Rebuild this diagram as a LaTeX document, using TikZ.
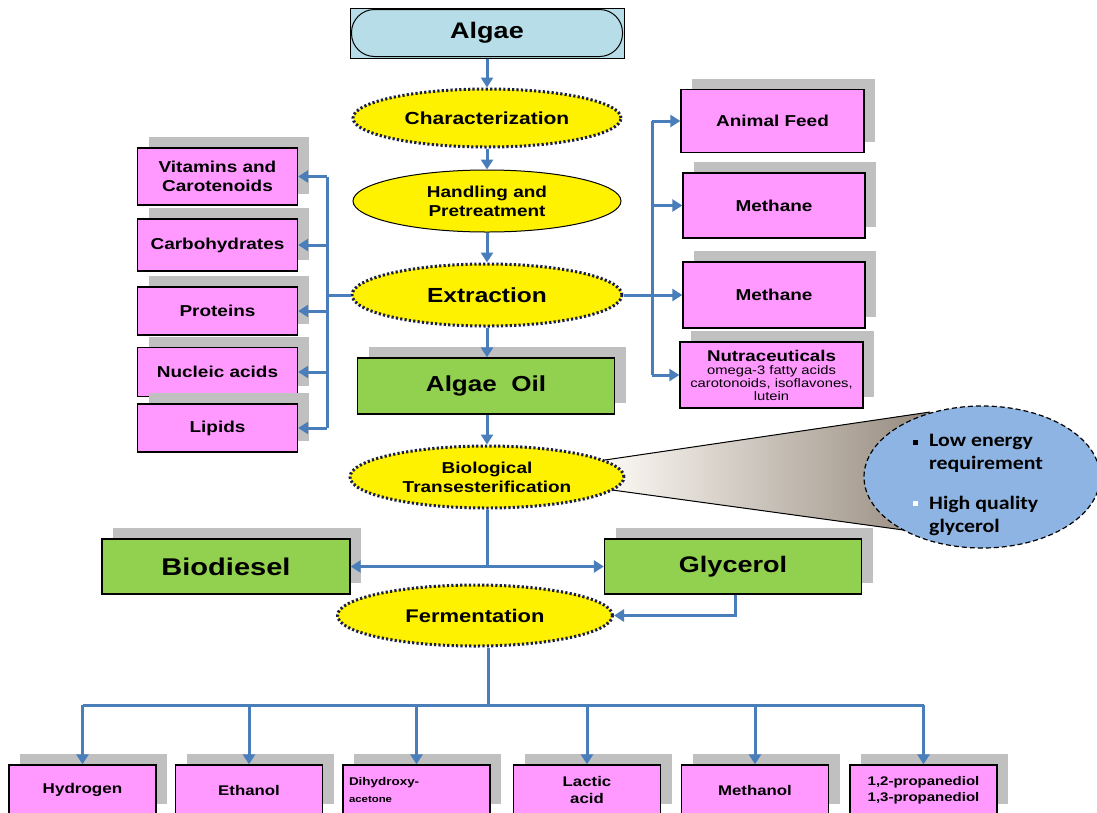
\documentclass[tikz,border=0pt]{standalone}
\usepackage{fontspec}
\setmainfont{Liberation Sans}[FakeStretch=1.2]
\newfontfamily\calibfont{Carlito}[FakeStretch=1.15]
\usetikzlibrary{shapes.geometric,arrows.meta,shadows}
\definecolor{conn}{RGB}{74,126,187}
\definecolor{pinkbox}{RGB}{255,153,255}
\definecolor{greenbox}{RGB}{146,208,80}
\definecolor{algaeblue}{RGB}{183,222,232}
\definecolor{dotline}{RGB}{25,30,70}
\definecolor{callblue}{RGB}{141,180,226}
\definecolor{shadowgray}{RGB}{192,192,192}
\definecolor{coneA}{RGB}{252,249,244}
\definecolor{coneB}{RGB}{150,138,126}
\newcommand\fsz[2]{\fontsize{#1}{#2}\selectfont}
\begin{document}
\begin{tikzpicture}[x=1pt,y=-1pt,
  every node/.style={inner sep=1pt, align=center, text=black},
  shad/.style={drop shadow={shadow xshift=11pt,shadow yshift=11pt,fill=shadowgray,opacity=1}},
  pbox/.style={rectangle, draw=black, line width=1.3pt, fill=pinkbox, shad, font=\bfseries\fsz{15.8}{19}},
  gbox/.style={rectangle, draw=black, line width=1.3pt, fill=greenbox, shad, font=\bfseries\fsz{22}{26}},
  dotell/.style={ellipse, fill=yellow, draw=dotline, line width=3pt, dash pattern=on 2.2pt off 2.2pt, inner sep=0pt},
  conline/.style={draw=conn, line width=3pt},
  arr/.style={conline, -{Triangle[length=10pt,width=12pt]}},
]
\useasboundingbox (0,0) rectangle (1097,812);
\clip (0,0) rectangle (1097,812);
\fill[white] (0,0) rectangle (1097,812);

% callout cone and bubble
\fill[left color=coneA, right color=coneB] (605,460) -- (930,412) -- (918,532) -- (605,489) -- cycle;
\draw[line width=1pt] (605,460) -- (930,412);
\draw[line width=1pt] (605,489) -- (918,532);
\node[ellipse, draw=black, line width=1.2pt, dash pattern=on 5pt off 3pt, fill=callblue, minimum width=236pt, minimum height=142pt] (call) at (982,477) {};
\fill[black] (913,440) rectangle (918,445);
\fill[white] (913,501) rectangle (918,506);
\node[anchor=west, inner sep=0pt, align=left, font=\calibfont\bfseries\fsz{19}{23}] (c1) at (929,453.5) {Low energy\\requirement};
\node[anchor=west, inner sep=0pt, align=left, font=\calibfont\bfseries\fsz{19}{23}] (c2) at (929,515.5) {High quality\\glycerol};

% main column
\node[rectangle, draw=black, line width=1pt, fill=algaeblue, minimum width=274pt, minimum height=50pt, font=\bfseries\fsz{22.5}{26}] (algae) at (487,33) {Algae};
\draw[line width=1pt, rounded corners=23pt] ([xshift=2pt,yshift=-2pt]algae.north west) rectangle ([xshift=-2pt,yshift=2pt]algae.south east);
\node[dotell, minimum width=268pt, minimum height=58pt, font=\bfseries\fsz{17.5}{21}] (char) at (487,118) {Characterization};
\node[ellipse, fill=yellow, draw=black, line width=1pt, inner sep=0pt, minimum width=268pt, minimum height=62pt, font=\bfseries\fsz{15.8}{19}] (hand) at (487,201) {Handling and\\Pretreatment};
\node[dotell, minimum width=270pt, minimum height=62pt, font=\bfseries\fsz{20.4}{24}] (extr) at (487,295) {Extraction};
\node[gbox, minimum width=257pt, minimum height=56pt, font=\bfseries\fsz{21.7}{26}] (oil) at (486,386) {Algae~~Oil};
\node[dotell, minimum width=274pt, minimum height=62pt, font=\bfseries\fsz{15.8}{19}] (bio) at (487,477) {Biological\\Transesterification};
\node[gbox, minimum width=248pt, minimum height=55pt, font=\bfseries\fsz{24.2}{28}] (bdsl) at (226,566.5) {Biodiesel};
\node[gbox, minimum width=257pt, minimum height=55pt, font=\bfseries\fsz{22.5}{26}] (glyc) at (733,566.5) {Glycerol};
\node[dotell, minimum width=275pt, minimum height=61pt, font=\bfseries\fsz{18.3}{22}] (ferm) at (475,615.5) {Fermentation};

% left products
\node[pbox, minimum width=160pt, minimum height=57pt] (vit) at (217.5,176.5) {Vitamins and\\Carotenoids};
\node[pbox, minimum width=160pt, minimum height=52pt] (carb) at (217.5,245) {Carbohydrates};
\node[pbox, minimum width=160pt, minimum height=48pt] (prot) at (217.5,311) {Proteins};
\node[pbox, minimum width=160pt, minimum height=49pt] (nucl) at (217.5,372) {Nucleic acids};
\node[pbox, minimum width=160pt, minimum height=48pt] (lipid) at (217.5,428) {Lipids};

% right products
\node[pbox, minimum width=183pt, minimum height=63pt] (feed) at (772.5,121) {Animal Feed};
\node[pbox, minimum width=182pt, minimum height=65pt] (meth1) at (774,205.5) {Methane};
\node[pbox, minimum width=182pt, minimum height=66pt] (meth2) at (774,295) {Methane};
\node[pbox, minimum width=183pt, minimum height=66pt, inner sep=0pt, font=\fsz{12.3}{13}] (nutra) at (771.5,375) {{\bfseries\fsz{15.6}{17}Nutraceuticals}\\omega-3 fatty acids\\carotonoids, isoflavones,\\lutein};

% bottom products
\node[pbox, minimum width=147pt, minimum height=50pt, font=\bfseries\fsz{14.2}{18}] (hyd) at (82.5,790) {Hydrogen};
\node[pbox, minimum width=147pt, minimum height=50pt, font=\bfseries\fsz{14}{18}] (eth) at (249,790) {Ethanol};
\node[pbox, minimum width=147pt, minimum height=50pt, text width=135pt, inner sep=6pt, align=left, font=\bfseries\fsz{11.2}{17}] (dha) at (416.5,790) {Dihydroxy-\\{\fsz{9.5}{12}acetone}};
\node[pbox, minimum width=147pt, minimum height=50pt, font=\bfseries\fsz{14}{17}] (lac) at (587,790) {Lactic\\acid};
\node[pbox, minimum width=147pt, minimum height=50pt, font=\bfseries\fsz{14}{18}] (meoh) at (755,790) {Methanol};
\node[pbox, minimum width=147pt, minimum height=50pt, font=\bfseries\fsz{12.5}{16}] (prop) at (923.5,790) {1,2-propanediol\\1,3-propanediol};

% main connectors
\draw[arr] (algae) -- (char);
\draw[arr] (char) -- (hand);
\draw[arr] (hand) -- (extr);
\draw[arr] (extr.south) -- (extr.south |- oil.north);
\draw[arr] (oil.south -| bio.north) -- (bio.north);

% left tree
\coordinate (lj) at (327,295);
\draw[conline] (extr.west) -- (lj);
\draw[conline] (lj |- vit.east) -- (lj |- lipid.east);
\foreach \n in {vit,carb,prot,nucl,lipid} \draw[arr] (lj |- \n.east) -- (\n.east);

% right tree
\coordinate (rj) at (652,295);
\draw[conline] (extr.east) -- (rj);
\draw[conline] (rj |- feed.west) -- (rj |- nutra.west);
\foreach \n in {feed,meth1,meth2,nutra} \draw[arr] (rj |- \n.west) -- (\n.west);

% transesterification split
\coordinate (bj) at (487,566.5);
\draw[conline] (bio.south) -- (bj);
\draw[arr] (bj) -- (bdsl.east);
\draw[arr] (bj) -- (glyc.west);
\draw[arr] ([xshift=2pt]glyc.south) |- (ferm.east);

% fermentation products
\coordinate (fj) at (488,705);
\draw[conline] (ferm.south -| fj) -- (fj);
\draw[conline] (hyd.north |- fj) -- (prop.north |- fj);
\foreach \n in {hyd,eth,dha,lac,meoh,prop} \draw[arr] (\n.north |- fj) -- (\n.north);
\end{tikzpicture}
\end{document}
